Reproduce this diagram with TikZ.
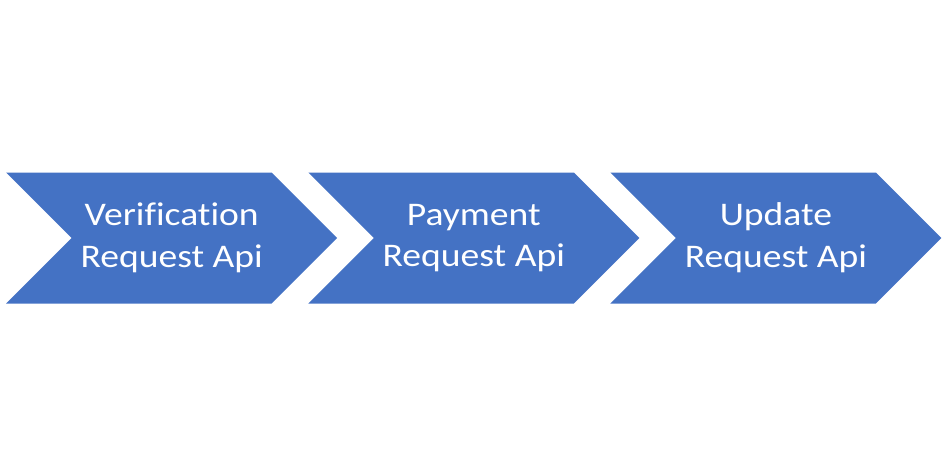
\documentclass[tikz,border=0pt]{standalone}
\usepackage{fontspec}
\usepackage{tikz}
\usetikzlibrary{shapes.symbols}
\newfontfamily\chevfont[FakeStretch=1.14,Ligatures=NoCommon]{Carlito}
\definecolor{officeblue}{RGB}{68,114,196}
\tikzset{
  etapa/.style={
    signal,
    signal to=east,
    signal from=west,
    signal pointer angle=90,
    fill=officeblue,
    draw=none,
    text=white,
    align=center,
    minimum width=331pt,
    minimum height=131pt,
    inner sep=0pt,
    font=\chevfont\fontsize{33}{41.6}\selectfont
  }
}

\begin{document}
\begin{tikzpicture}[x=1pt,y=-1pt]
\useasboundingbox (0,0) rectangle (945,476);
\node[etapa] (verif) at (171.7,238) {Verification\\Request Api};
\node[etapa] (pago) at (473.8,238) {Payment\\Request Api};
\node[etapa] (actual) at (775.9,238) {Update\\Request Api};
\end{tikzpicture}
\end{document}
